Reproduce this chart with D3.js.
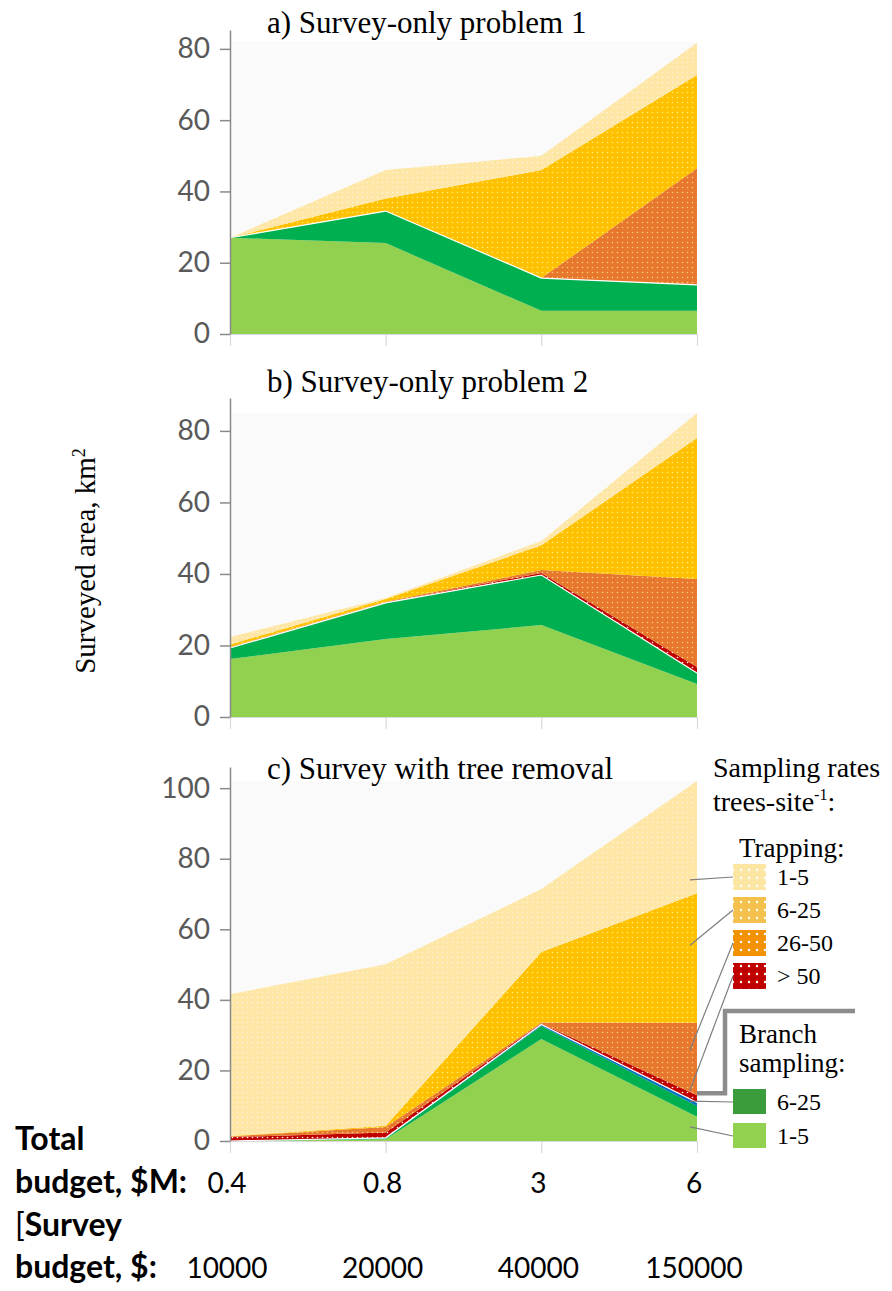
<!DOCTYPE html>
<html>
<head>
<meta charset="utf-8">
<script src="https://cdn.jsdelivr.net/npm/d3@7"></script>
<style>
body { margin: 0; background: #fff; }
</style>
</head>
<body>
<script>
// x categories (total budget, $M) and survey budgets
const budgetLabels = ["0.4", "0.8", "3", "6"];
const surveyBudgets = ["10000", "20000", "40000", "150000"];

// stack order, bottom to top
const layerKeys = ["br1_5", "br6_25", "blue", "tr50", "tr26_50", "tr6_25", "tr1_5"];

// panel a) layer thickness, km2
const a_br1_5   = [27, 25.5, 6.5, 6.5];
const a_br6_25  = [0, 9, 9.2, 7.3];
const a_blue    = [0, 0, 0, 0];
const a_tr50    = [0, 0, 0, 0];
const a_tr26_50 = [0, 0, 0, 32.7];
const a_tr6_25  = [0, 3.5, 30.3, 26.2];
const a_tr1_5   = [0, 8, 4, 9];

// panel b)
const b_br1_5   = [16.2, 21.8, 25.7, 9.2];
const b_br6_25  = [3.1, 10.1, 14.0, 3.1];
const b_blue    = [0, 0, 0, 0];
const b_tr50    = [0.1, 0.1, 0.6, 1.7];
const b_tr26_50 = [0.2, 0.2, 0.8, 24.6];
const b_tr6_25  = [0.7, 0.8, 6.9, 39.4];
const b_tr1_5   = [2.1, 0.3, 1.2, 7];

// panel c)
const c_br1_5   = [0, 0.5, 28.9, 6.9];
const c_br6_25  = [0, 0.3, 3.7, 3.0];
const c_blue    = [0, 0.1, 0.4, 1.0];
const c_tr50    = [1.1, 1.5, 0.3, 2.1];
const c_tr26_50 = [0.2, 1.6, 0.3, 20.5];
const c_tr6_25  = [0.1, 0.3, 20.0, 36.7];
const c_tr1_5   = [40.2, 45.8, 17.8, 31.8];

// legend
const trapLabels = ["1-5", "6-25", "26-50", "> 50"];
const trapKeys = ["tr1_5", "tr6_25", "tr26_50", "tr50"];
const branchLabels = ["6-25", "1-5"];
const branchKeys = ["br6_25", "br1_5"];
// where the leader lines touch panel c (km2 at the last budget)
const leaderValues = [74, 55.5, 25.8, 14.4, 11.3, 4];

const fills = {
    br1_5: "#92d050", br6_25: "#00b050", blue: "#0070c0",
    tr50: "#c00000", tr26_50: "#e8772e", tr6_25: "#ffc000", tr1_5: "#fee7a6"
};
const dots = { tr50: "#ffffff", tr26_50: "#f9cf78", tr6_25: "#fff27a", tr1_5: "#fff5d8" };
const legendFills = {
    tr1_5: "#fde6a4", tr6_25: "#f4c14f", tr26_50: "#f39200", tr50: "#c00000",
    br6_25: "#3a9c3a", br1_5: "#92d050"
};

const canvWidth = 892, canvHeight = 1291;
const svg = d3.select("body").append("svg")
    .attr("width", canvWidth)
    .attr("height", canvHeight);

const serif = "'Liberation Serif', 'Times New Roman', serif";
const sans = "Lato, 'Open Sans', sans-serif";

// dotted fill patterns
const defs = svg.append("defs");
Object.keys(fills).forEach(k => {
    if (!dots[k]) return;
    const p = defs.append("pattern").attr("id", "pat-" + k)
        .attr("patternUnits", "userSpaceOnUse").attr("width", 5).attr("height", 5);
    p.append("rect").attr("width", 5).attr("height", 5).attr("fill", fills[k]);
    p.append("circle").attr("cx", 2.5).attr("cy", 2.5).attr("r", 0.8).attr("fill", dots[k]);
});
trapKeys.forEach(k => {
    const p = defs.append("pattern").attr("id", "lpat-" + k)
        .attr("patternUnits", "userSpaceOnUse").attr("width", 8).attr("height", 8)
        .attr("x", 737).attr("y", 2);
    p.append("rect").attr("width", 8).attr("height", 8).attr("fill", legendFills[k]);
    p.append("circle").attr("cx", 4).attr("cy", 4).attr("r", 1.2).attr("fill", "#ffffff");
});
const fillOf = k => dots[k] ? "url(#pat-" + k + ")" : fills[k];

const xScale = d3.scalePoint().domain(budgetLabels).range([230, 697]);

const panels = [
    { title: "a) Survey-only problem 1", layers: [a_br1_5, a_br6_25, a_blue, a_tr50, a_tr26_50, a_tr6_25, a_tr1_5],
      yMax: 85.3, range: [334, 30], ticks: [0, 20, 40, 60, 80], titleY: 33, bgTop: 82 },
    { title: "b) Survey-only problem 2", layers: [b_br1_5, b_br6_25, b_blue, b_tr50, b_tr26_50, b_tr6_25, b_tr1_5],
      yMax: 89.2, range: [717, 398], ticks: [0, 20, 40, 60, 80], titleY: 392, bgTop: 85 },
    { title: "c) Survey with tree removal", layers: [c_br1_5, c_br6_25, c_blue, c_tr50, c_tr26_50, c_tr6_25, c_tr1_5],
      yMax: 106, range: [1141, 767], ticks: [0, 20, 40, 60, 80, 100], titleY: 779, bgTop: 102 }
];

let yC; // kept for the legend leaders

panels.forEach((pn, pi) => {
    const yScale = d3.scaleLinear().domain([0, pn.yMax]).range(pn.range);
    if (pi === 2) yC = yScale;

    const rows = budgetLabels.map((b, i) => {
        const r = { budget: b };
        layerKeys.forEach((k, j) => r[k] = pn.layers[j][i]);
        return r;
    });
    const stacked = d3.stack().keys(layerKeys)(rows);

    const g = svg.append("g");

    // faint plot background
    g.append("rect")
        .attr("x", xScale.range()[0]).attr("y", yScale(pn.bgTop))
        .attr("width", xScale.range()[1] - xScale.range()[0])
        .attr("height", yScale(0) - yScale(pn.bgTop))
        .attr("fill", "#fafafa");

    const area = d3.area()
        .x(d => xScale(d.data.budget))
        .y0(d => yScale(d[0]))
        .y1(d => yScale(d[1]));

    g.selectAll("path.layer")
        .data(stacked)
        .join("path")
        .attr("class", "layer")
        .attr("d", area)
        .attr("fill", d => fillOf(d.key));

    // thin white edge on top of the branch-sampling layers
    const edge = d3.line()
        .x(d => xScale(d.data.budget))
        .y(d => yScale(d[1]));
    g.append("path")
        .attr("d", edge(stacked[2]))
        .attr("fill", "none")
        .attr("stroke", "#ffffff")
        .attr("stroke-width", 1.2);

    // bottom axis (light)
    const xAxis = d3.axisBottom(xScale).tickSize(12).tickSizeOuter(0).tickFormat("");
    const gx = g.append("g")
        .attr("transform", "translate(0," + yScale(0) + ")")
        .call(xAxis);
    gx.select(".domain").attr("stroke", "#d9d9d9").attr("stroke-width", 1.2);
    gx.selectAll(".tick line").attr("stroke", "#d9d9d9").attr("stroke-width", 1.2);

    // left axis
    const yAxis = d3.axisLeft(yScale).tickValues(pn.ticks).tickSize(10).tickSizeOuter(0).tickPadding(10);
    const gy = g.append("g")
        .attr("transform", "translate(" + xScale.range()[0] + ",0)")
        .call(yAxis);
    gy.select(".domain").attr("stroke", "#8a8a8a").attr("stroke-width", 1.5);
    gy.selectAll(".tick line").attr("stroke", "#8a8a8a").attr("stroke-width", 1.5);
    gy.selectAll(".tick text")
        .attr("font-family", sans)
        .attr("font-size", "28px")
        .attr("fill", "#595959");

    // panel title
    svg.append("text")
        .attr("x", 267)
        .attr("y", pn.titleY)
        .attr("font-family", serif)
        .attr("font-size", "31px")
        .attr("fill", "#000")
        .text(pn.title);
});

// y axis title
svg.append("text")
    .attr("transform", "translate(95,561) rotate(-90)")
    .attr("font-family", serif)
    .attr("font-size", "29px")
    .style("text-anchor", "middle")
    .text("Surveyed area, km")
    .append("tspan")
    .attr("font-size", "18px")
    .attr("dy", "-10")
    .text("2");

// bottom labels
const bottom = svg.append("g").attr("font-family", sans).attr("fill", "#000");
bottom.append("text").attr("x", 15).attr("y", 1150)
    .attr("font-size", "32px").attr("font-weight", "bold").text("Total");
bottom.append("text").attr("x", 15).attr("y", 1193)
    .attr("font-size", "32px").attr("font-weight", "bold").text("budget, $M:");
bottom.append("text").attr("x", 15).attr("y", 1236)
    .attr("font-size", "32px").attr("font-weight", "bold")
    .call(t => { t.append("tspan").attr("font-weight", "normal").text("["); t.append("tspan").text("Survey"); });
bottom.append("text").attr("x", 15).attr("y", 1278)
    .attr("font-size", "32px").attr("font-weight", "bold").text("budget, $:");

bottom.selectAll("text.total")
    .data(budgetLabels)
    .join("text")
    .attr("class", "total")
    .attr("x", d => xScale(d) - 3)
    .attr("y", 1193)
    .attr("font-size", "28px")
    .style("text-anchor", "middle")
    .text(d => d);

bottom.selectAll("text.survey")
    .data(surveyBudgets)
    .join("text")
    .attr("class", "survey")
    .attr("x", (d, i) => xScale(budgetLabels[i]) - 3)
    .attr("y", 1278)
    .attr("font-size", "28px")
    .style("text-anchor", "middle")
    .text(d => d);

// legend
const legend = svg.append("g").attr("font-family", serif).attr("fill", "#000");
legend.append("text").attr("x", 713).attr("y", 777).attr("font-size", "28px").text("Sampling rates");
legend.append("text").attr("x", 713).attr("y", 811).attr("font-size", "28px")
    .call(t => {
        t.append("tspan").text("trees-site");
        t.append("tspan").attr("font-size", "16px").attr("dy", -11).text("-1");
        t.append("tspan").attr("dy", 11).text(":");
    });
legend.append("text").attr("x", 739).attr("y", 857).attr("font-size", "27px").text("Trapping:");

const swX = 733, swW = 33, swH = 26;
const trapY = i => 864 + i * 33;
legend.selectAll("rect.trap")
    .data(trapKeys)
    .join("rect")
    .attr("class", "trap")
    .attr("x", swX).attr("y", (d, i) => trapY(i))
    .attr("width", swW).attr("height", swH)
    .attr("fill", d => "url(#lpat-" + d + ")");
legend.selectAll("text.trap")
    .data(trapLabels)
    .join("text")
    .attr("class", "trap")
    .attr("x", 777).attr("y", (d, i) => trapY(i) + 21)
    .attr("font-size", "24px")
    .text(d => d);

legend.append("text").attr("x", 739).attr("y", 1043).attr("font-size", "27px").text("Branch");
legend.append("text").attr("x", 739).attr("y", 1072).attr("font-size", "27px").text("sampling:");

const branchY = i => 1089 + i * 34;
legend.selectAll("rect.branch")
    .data(branchKeys)
    .join("rect")
    .attr("class", "branch")
    .attr("x", swX).attr("y", (d, i) => branchY(i))
    .attr("width", swW).attr("height", swH - 1)
    .attr("fill", d => legendFills[d]);
legend.selectAll("text.branch")
    .data(branchLabels)
    .join("text")
    .attr("class", "branch")
    .attr("x", 777).attr("y", (d, i) => branchY(i) + 21)
    .attr("font-size", "24px")
    .text(d => d);

// leader lines from swatches into panel c
const swatchCentres = trapKeys.map((k, i) => trapY(i) + swH / 2)
    .concat(branchKeys.map((k, i) => branchY(i) + swH / 2));
svg.selectAll("line.leader")
    .data(leaderValues)
    .join("line")
    .attr("class", "leader")
    .attr("x1", xScale("6") - 7)
    .attr("y1", d => yC(d))
    .attr("x2", swX)
    .attr("y2", (d, i) => swatchCentres[i])
    .attr("stroke", "#7f7f7f")
    .attr("stroke-width", 1.2);

// thick separator between trapping and branch sampling
const cTopTrap = c_br1_5[3] + c_br6_25[3] + c_blue[3] + c_tr50[3];
svg.append("path")
    .attr("d", d3.line()([[855, 1011], [725, 1011], [725, yC(cTopTrap) - 2], [xScale("6"), yC(cTopTrap) - 2]]))
    .attr("fill", "none")
    .attr("stroke", "#8c8c8c")
    .attr("stroke-width", 4.5);
</script>
</body>
</html>
